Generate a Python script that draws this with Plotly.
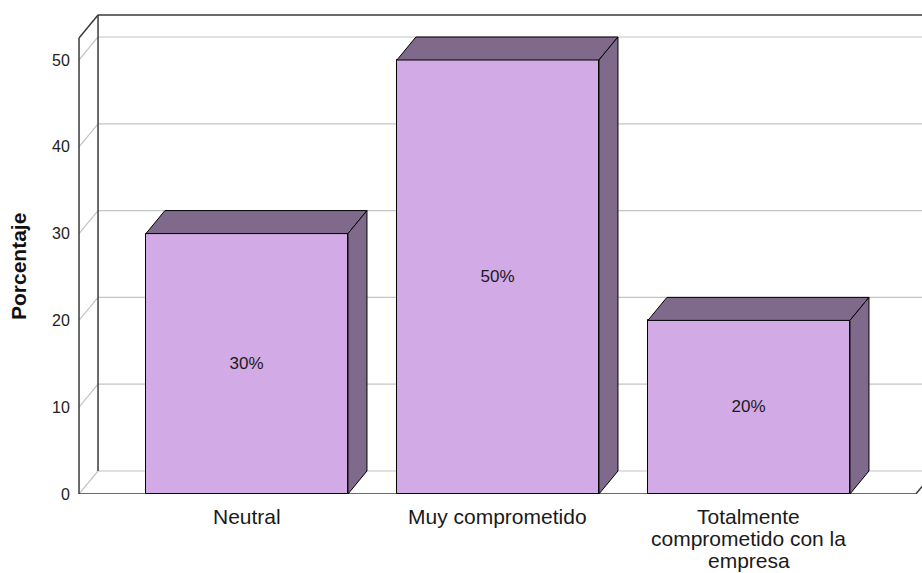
import plotly.graph_objects as go

# ---------------- data ----------------
categories = ["Neutral", "Muy comprometido", "Totalmente<br>comprometido con la<br>empresa"]
percent = [30, 50, 20]
bar_labels = ["30%", "50%", "20%"]
y_ticks = [0, 10, 20, 30, 40, 50]

# ---------------- style / geometry (layout units) ----------------
FRONT = "#D2AAE6"
DARK = "#7F6A8C"
GRID = "#C4C4C4"
WALL = "#3A3A3A"
FONT = "Liberation Sans, Arial, sans-serif"

BAR_W = 0.805          # bar width in category units
DX, DY = 0.0757, 2.65  # 3-D depth offset (x units, y units)
X_RANGE = [-0.685, 2.6895]
Y_RANGE = [0, 55.76]
XF, XR = -0.669, 2.665  # front-left and front-right edge of the floor
TOP = 55.18             # top of back wall

xpos = list(range(len(categories)))

fig = go.Figure()

# front faces
fig.add_trace(go.Bar(
    x=xpos, y=percent, width=BAR_W,
    marker=dict(color=FRONT, line=dict(color="black", width=1)),
    text=bar_labels, textposition="inside", insidetextanchor="middle",
    textfont=dict(family=FONT, size=17, color="#1A1A1A"),
    hoverinfo="skip", showlegend=False,
))

# top and side faces
for x, v in zip(xpos, percent):
    l, r = x - BAR_W / 2, x + BAR_W / 2
    fig.add_trace(go.Scatter(
        x=[l, l + DX, r + DX, r, l], y=[v, v + DY, v + DY, v, v],
        mode="lines", fill="toself", fillcolor=DARK,
        line=dict(color="black", width=1), hoverinfo="skip", showlegend=False))
    fig.add_trace(go.Scatter(
        x=[r, r + DX, r + DX, r, r], y=[0, DY, v + DY, v, 0],
        mode="lines", fill="toself", fillcolor=DARK,
        line=dict(color="black", width=1), hoverinfo="skip", showlegend=False))

shapes = []
# back-wall gridlines and left-wall diagonals
for t in y_ticks:
    shapes.append(dict(type="line", xref="x", yref="y", layer="below",
                       x0=XF + DX, x1=XR + DX + 1, y0=t + DY, y1=t + DY,
                       line=dict(color=GRID, width=1.2)))
    shapes.append(dict(type="line", xref="x", yref="y", layer="below",
                       x0=XF, x1=XF + DX, y0=t, y1=t + DY,
                       line=dict(color=GRID, width=1.2)))
# dark frame lines
frame = [
    (XF, 0, XF, TOP - DY),             # front left vertical
    (XF + DX, DY, XF + DX, TOP),       # back left vertical
    (XF, TOP - DY, XF + DX, TOP),      # top-left diagonal
    (XF + DX, TOP, XR + DX + 1, TOP),  # top back edge
    (XF, 0, XR, 0),                    # front floor edge
    (XR, 0, XR + DX, DY),              # right floor diagonal
]
for x0, y0, x1, y1 in frame:
    shapes.append(dict(type="line", xref="x", yref="y", layer="below",
                       x0=x0, y0=y0, x1=x1, y1=y1,
                       line=dict(color=WALL, width=1.5)))

# category labels (one annotation per text line for tight line spacing)
annotations = []
for x, cat in zip(xpos, categories):
    for i, line in enumerate(cat.split("<br>")):
        annotations.append(dict(
            x=x, y=0, xref="x", yref="y", text=line, showarrow=False,
            xanchor="center", yanchor="middle", yshift=-22 - 22 * i,
            font=dict(family=FONT, size=21, color="#1A1A1A")))

# y-axis title
annotations.append(dict(
    x=0, y=0.469, xref="paper", yref="paper", text="<b>Porcentaje</b>",
    showarrow=False, textangle=-90, xanchor="center", yanchor="middle",
    xshift=-57, font=dict(family=FONT, size=21, color="#111111")))

fig.update_layout(
    width=922, height=573,
    margin=dict(l=75, r=0, t=10, b=79, pad=0),
    paper_bgcolor="white", plot_bgcolor="white",
    shapes=shapes, annotations=annotations,
    bargap=0,
    xaxis=dict(range=X_RANGE, showgrid=False, zeroline=False, showline=False,
               showticklabels=False, ticks="", fixedrange=True),
    yaxis=dict(range=Y_RANGE, tickvals=y_ticks, showgrid=False, zeroline=False,
               showline=False, ticks="outside", ticklen=1, tickcolor="rgba(0,0,0,0)",
               tickfont=dict(family=FONT, size=16, color="#222222"), fixedrange=True),
)

fig.write_html("out.html")
